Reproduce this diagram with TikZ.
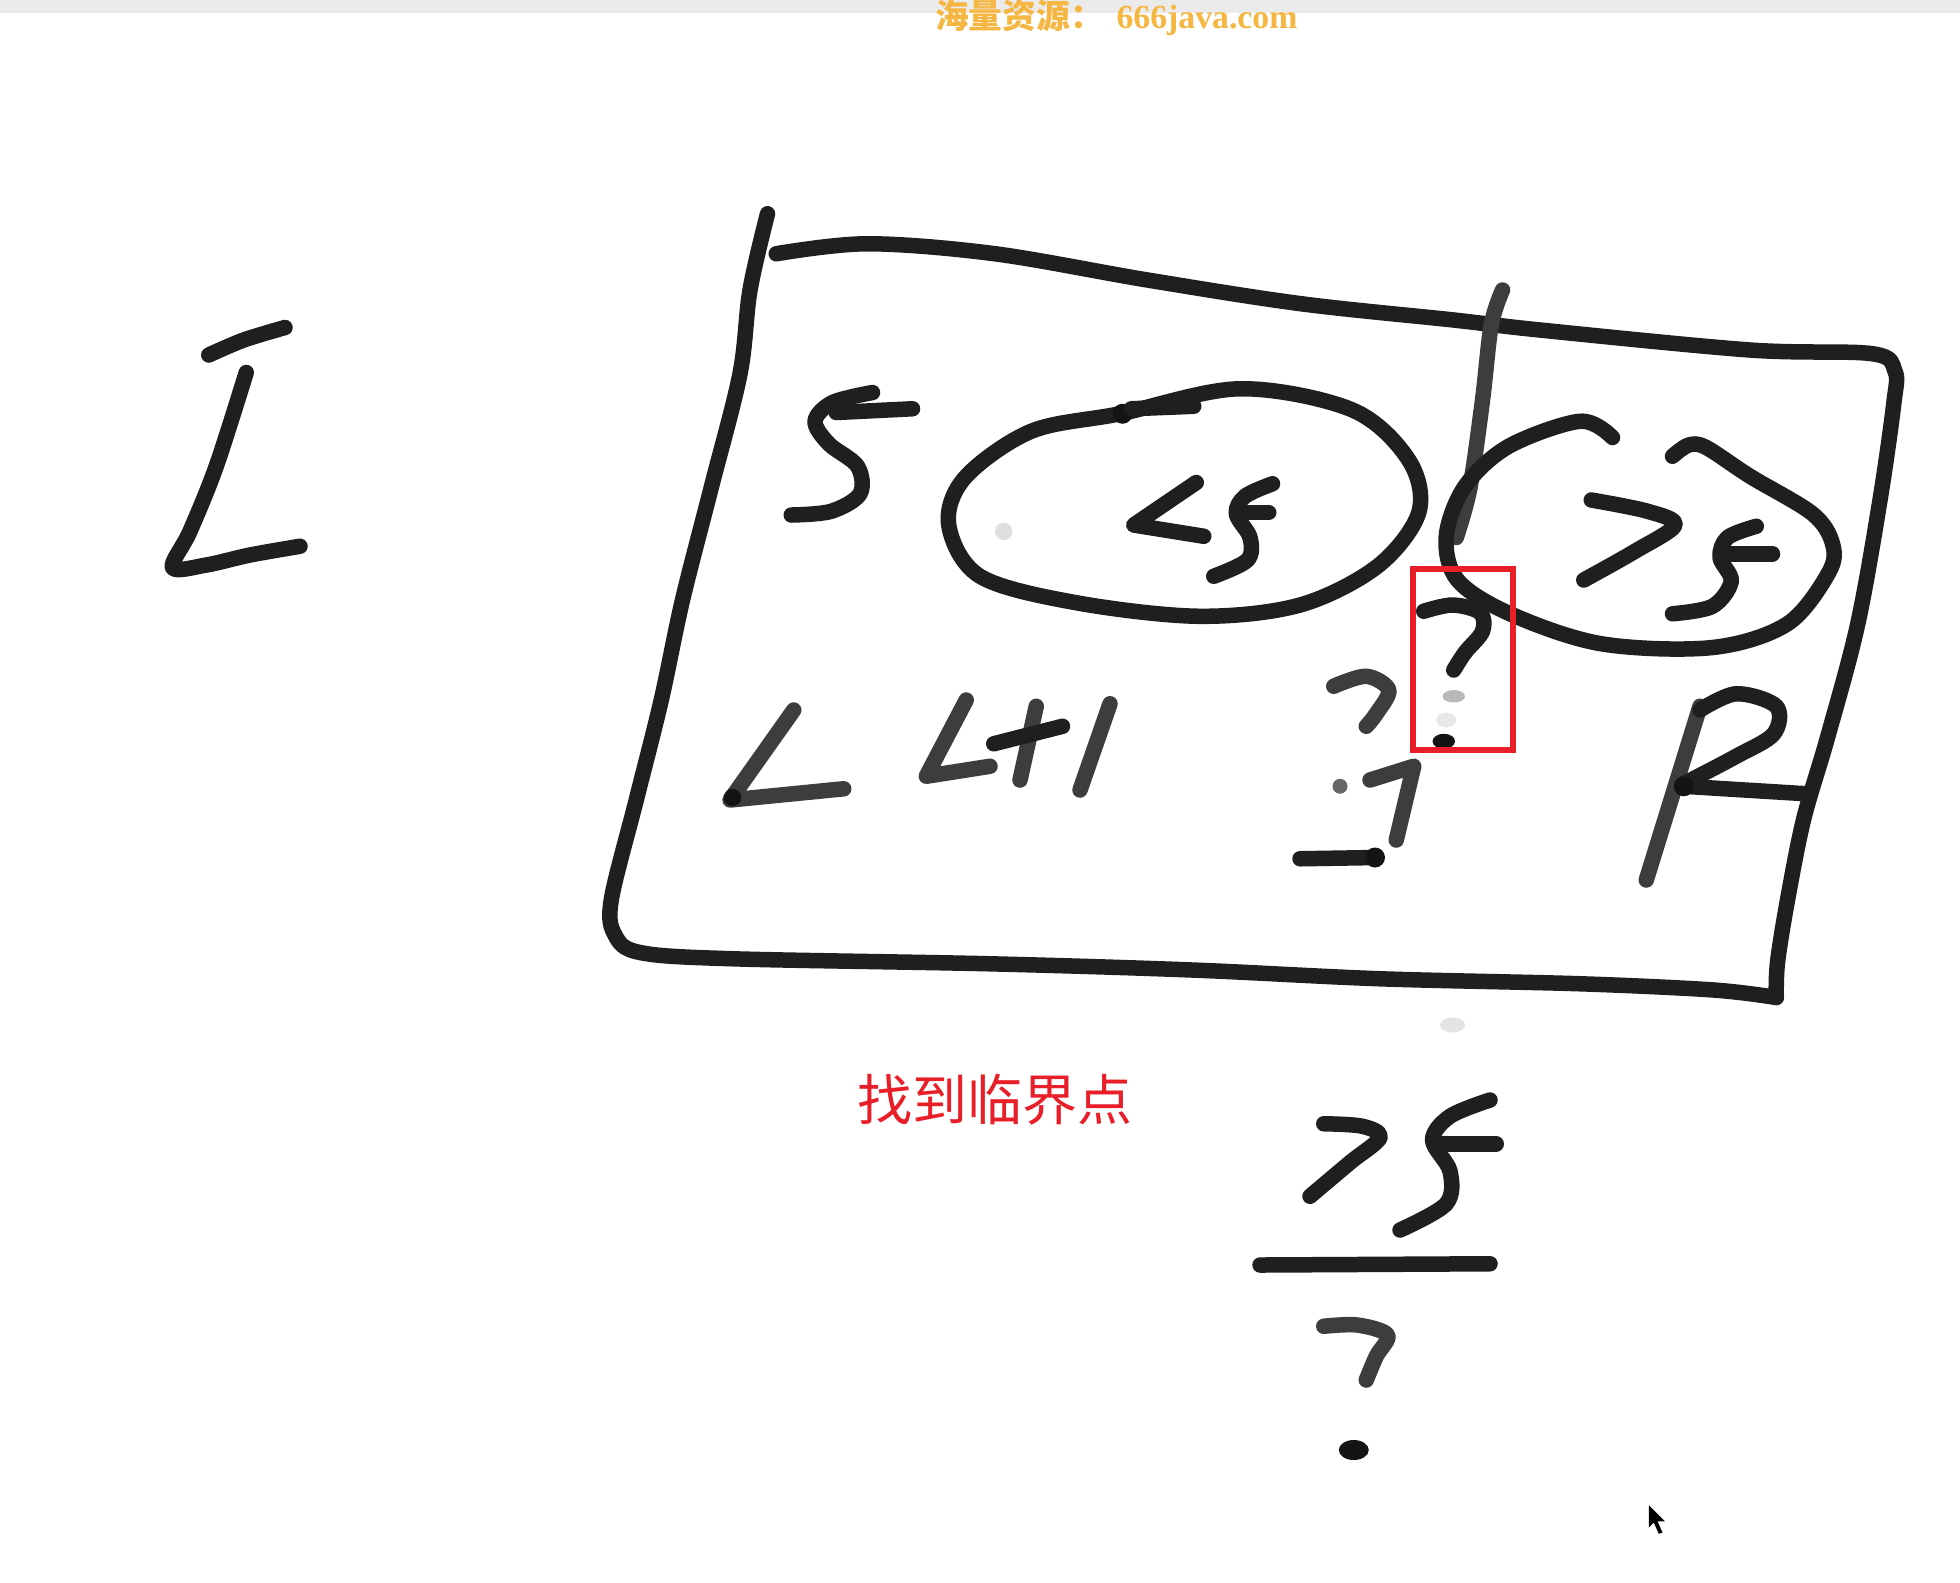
\documentclass[tikz,border=0pt]{standalone}
\usepackage{fontspec}
\newfontfamily\cjkfont{Noto Sans CJK SC}
\newfontfamily\wmserif{Liberation Serif}
\definecolor{wmorange}{RGB}{246,182,66}
\definecolor{markred}{RGB}{232,30,40}
\tikzset{
  ink/.style={draw=black!88, line width=6.2pt, line cap=round, line join=round},
  faint/.style={ink, draw=black!76},
  inkdot/.style={fill=black!92, draw=none},
  sm/.style={smooth, tension=0.55}
}
\begin{document}
\begin{tikzpicture}[x=0.5pt,y=-0.5pt]
\useasboundingbox (0,0) rectangle (1568,1266);
\fill[white] (0,0) rectangle (1568,1266);
\fill[gray!16] (0,0) rectangle (1568,10);
\node[text=wmorange, font=\bfseries\fontsize{13.5}{15}\selectfont, inner sep=0pt] (wm) at (893,14) {{\cjkfont 海量资源：} {\wmserif 666java.com}};

% left big L with bar
\draw[ink] plot[sm] coordinates {(167,284) (195,272) (228,262)};
\draw[ink] plot[sm] coordinates {(197,298) (173,373) (152,425) (138,454) (165,452) (200,444) (240,437)};

% main box: top + right edge
\draw[ink] plot[sm] coordinates {(621,203) (694,195) (796,203) (918,224) (1041,243) (1163,256) (1232,264) (1400,280) (1498,283) (1516,297) (1515,323) (1504,400) (1486,500) (1462,590) (1443,655) (1430,720) (1422,770) (1421,798)};
% bottom + left edge
\draw[ink] plot[sm] coordinates {(1421,798) (1371,792) (1264,787) (1104,783) (954,776) (791,771) (586,767) (512,762) (492,748) (489,720) (509,640) (529,560) (546,480) (569,390) (592,299) (600,232) (614,171)};
% divider
\draw[faint] plot[sm] coordinates {(1202,232) (1193,260) (1186,320) (1176,390) (1165,430)};

% S on the left
\draw[ink] plot[sm] coordinates {(698,314) (666,322) (652,337) (663,355) (686,373) (688,395) (665,409) (633,412)};
\draw[ink] (669,330) -- (730,327);

% left circle
\draw[ink] plot[smooth cycle, tension=0.55] coordinates {(896,331) (992,311) (1082,328) (1127,368) (1135,410) (1102,453) (1040,484) (959,493) (860,482) (784,461) (759,420) (772,382) (825,345)};
\fill[inkdot] (898,331) circle (8);
\draw[ink] (905,327) -- (955,325);
\fill[gray!25] (803,425) circle (7);
% <S inside
\draw[ink] (957,386) -- (907,420) -- (963,429);
\draw[ink] plot[sm] coordinates {(1018,387) (996,397) (989,411) (1000,430) (998,448) (971,461)};
\draw[ink] (990,410) -- (1015,410);

% right circle
\draw[ink] plot[sm] coordinates {(1290,350) (1264,337) (1207,357) (1172,389) (1157,429) (1166,464) (1208,491) (1281,515) (1370,518) (1430,499) (1463,458) (1466,435) (1450,411) (1400,381) (1365,358) (1351,356) (1338,365)};
% >S inside
\draw[ink] plot[sm] coordinates {(1273,400) (1318,409) (1340,420) (1308,441) (1267,464)};
\draw[ink] plot[sm] coordinates {(1405,421) (1382,430) (1376,446) (1385,465) (1370,485) (1338,491)};
\draw[ink] (1377,443) -- (1418,443);

% question marks near the border
\draw[ink] plot[sm] coordinates {(1139,489) (1162,484) (1184,490) (1186,505) (1172,522) (1163,536)};
\fill[gray!55] (1163,557) ellipse (9 and 5);
\fill[gray!18] (1157,576) ellipse (8 and 6);
\fill[inkdot] (1155,593) ellipse (9 and 6);
\draw[faint] plot[sm] coordinates {(1067,549) (1093,541) (1111,552) (1101,571) (1093,581)};
\fill[black!60] (1072,629) circle (6);
\draw[faint] (1096,624) -- (1131,613) -- (1117,672);
\draw[ink] (1040,687) -- (1101,686);
\fill[inkdot] (1100,686) circle (8);

% L  L+1
\draw[faint] (635,568) -- (584,640) -- (675,631);
\fill[inkdot] (586,638) circle (7);
\draw[faint] (773,560) -- (741,621) -- (792,613);
\draw[faint] (829,565) -- (816,624);
\draw[ink] (795,595) -- (850,581);
\draw[faint] (888,563) -- (864,632);

% R
\draw[faint] (1360,565) -- (1317,704);
\draw[ink] plot[sm] coordinates {(1360,568) (1389,555) (1421,565) (1419,587) (1389,605) (1347,627)};
\draw[ink] (1347,629) -- (1445,635);
\fill[inkdot] (1347,629) circle (8);

% red marker box
\draw[markred, line width=2.4pt] (1130,455) rectangle (1210,600);

% light dot below box
\fill[gray!22] (1162,820) ellipse (10 and 6);

% red caption
\node[text=markred, font=\cjkfont\fontsize{22}{26}\selectfont, inner sep=0pt] (crit) at (796,880) {找到临界点};

% >S over ?
\draw[ink] plot[sm] coordinates {(1059,899) (1090,901) (1104,910) (1080,930) (1048,957)};
\draw[ink] plot[sm] coordinates {(1192,880) (1160,893) (1146,912) (1160,937) (1157,963) (1120,984)};
\draw[ink] (1149,915) -- (1197,915);
\draw[ink] (1008,1012) -- (1192,1011);
\draw[faint] plot[sm] coordinates {(1059,1061) (1086,1060) (1110,1068) (1101,1085) (1093,1104)};
\fill[inkdot] (1083,1160) ellipse (12 and 8);

% mouse cursor
\fill[black] (1319,1204) -- (1319,1222) -- (1323,1218) -- (1327,1227) -- (1330,1226) -- (1326,1217) -- (1332,1217) -- cycle;
\end{tikzpicture}
\end{document}
